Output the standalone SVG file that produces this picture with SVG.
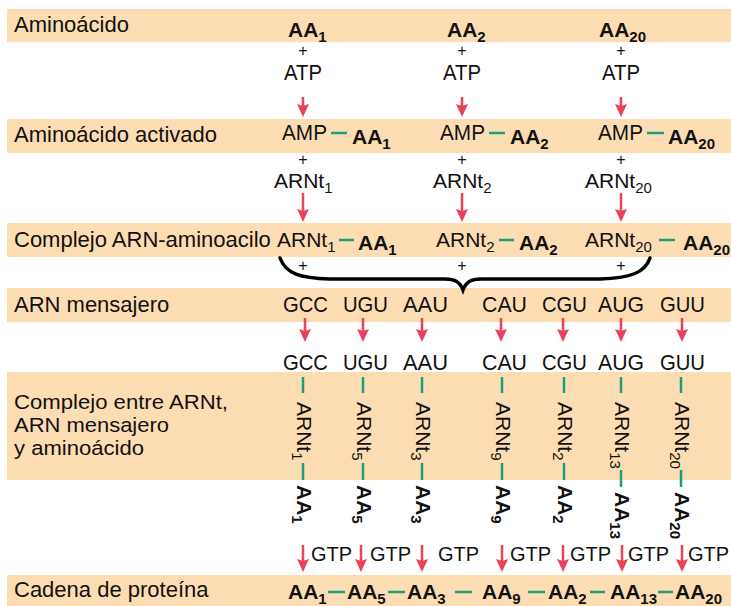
<svg xmlns="http://www.w3.org/2000/svg" width="731" height="606" viewBox="0 0 731 606">
<defs>
<style>
text{font-family:"Liberation Sans",Arial,Helvetica,sans-serif;font-size:22px;fill:#111}
.b{font-weight:bold;font-size:21px}
.t{font-size:21px}
.g{font-size:20px}
.m{font-size:20.5px}
.s{font-size:15px}
.p{font-size:16px}
.band{fill:#FCDDB3}
.arr{stroke:#E8435A;stroke-width:2.5;fill:none;marker-end:url(#ah)}
.tl{stroke:#1E9E78;stroke-width:2.5;fill:none}
.brace{stroke:#000;stroke-width:3.5;fill:none;stroke-linecap:round}
</style>
<marker id="ah" markerUnits="userSpaceOnUse" markerWidth="14" markerHeight="14" viewBox="0 -7 14 14" refX="2" refY="0" orient="auto">
<path d="M0,-6 L13,0 L0,6 L2,0z" fill="#E8435A"/>
</marker>
</defs>
<rect width="731" height="606" fill="#fff"/>
<g id="bands">
<rect class="band" x="7" y="9" width="724" height="33"/>
<rect class="band" x="7" y="119" width="724" height="34"/>
<rect class="band" x="7" y="223" width="724" height="34"/>
<rect class="band" x="7" y="288" width="724" height="34"/>
<rect class="band" x="7" y="372" width="724" height="108"/>
<rect class="band" x="7" y="575" width="724" height="31"/>
</g>
<g id="labels">
<text x="14" y="32">Aminoácido</text>
<text x="14" y="142">Aminoácido activado</text>
<text x="14" y="247">Complejo ARN-aminoacilo</text>
<text x="14" y="312">ARN mensajero</text>
<text class="m" x="14" y="409" textLength="214" lengthAdjust="spacingAndGlyphs">Complejo entre ARNt,</text>
<text class="m" x="14" y="432" textLength="155" lengthAdjust="spacingAndGlyphs">ARN mensajero</text>
<text class="m" x="14" y="455" textLength="130" lengthAdjust="spacingAndGlyphs">y aminoácido</text>
<text x="14" y="597">Cadena de proteína</text>
</g>
<g id="connectors">
<line class="arr" x1="303" y1="97" x2="303" y2="106"/>
<line class="arr" x1="462" y1="97" x2="462" y2="106"/>
<line class="arr" x1="621" y1="97" x2="621" y2="106"/>
<line class="arr" x1="303" y1="193" x2="303" y2="211"/>
<line class="arr" x1="462" y1="193" x2="462" y2="211"/>
<line class="arr" x1="621" y1="193" x2="621" y2="211"/>
<line class="tl" x1="331" y1="133" x2="347" y2="133"/>
<line class="tl" x1="489" y1="133" x2="505" y2="133"/>
<line class="tl" x1="647" y1="133" x2="664" y2="133"/>
<line class="tl" x1="339" y1="240" x2="354" y2="240"/>
<line class="tl" x1="499" y1="240" x2="514" y2="240"/>
<line class="tl" x1="659" y1="240" x2="675" y2="240"/>
<path class="brace" d="M280,258 C286,274 300,278 330,279 L445,279 C455,279 460,282 463,290 C466,282 471,279 481,279 L600,279 C630,278 645,273 650,258"/>
<line class="arr" x1="305" y1="318" x2="305" y2="331"/>
<line class="arr" x1="363" y1="318" x2="363" y2="331"/>
<line class="arr" x1="422" y1="318" x2="422" y2="331"/>
<line class="arr" x1="501" y1="318" x2="501" y2="331"/>
<line class="arr" x1="563" y1="318" x2="563" y2="331"/>
<line class="arr" x1="621" y1="318" x2="621" y2="331"/>
<line class="arr" x1="682" y1="318" x2="682" y2="331"/>
<line class="tl" x1="303" y1="377" x2="303" y2="393"/>
<line class="tl" x1="363" y1="377" x2="363" y2="393"/>
<line class="tl" x1="422" y1="377" x2="422" y2="393"/>
<line class="tl" x1="502" y1="377" x2="502" y2="393"/>
<line class="tl" x1="564" y1="377" x2="564" y2="393"/>
<line class="tl" x1="621" y1="377" x2="621" y2="393"/>
<line class="tl" x1="681" y1="377" x2="681" y2="393"/>
<line class="tl" x1="303" y1="463" x2="303" y2="480"/>
<line class="tl" x1="363" y1="463" x2="363" y2="480"/>
<line class="tl" x1="422" y1="463" x2="422" y2="480"/>
<line class="tl" x1="502" y1="463" x2="502" y2="480"/>
<line class="tl" x1="564" y1="463" x2="564" y2="480"/>
<line class="tl" x1="621" y1="470" x2="621" y2="487"/>
<line class="tl" x1="681" y1="470" x2="681" y2="487"/>
<line class="arr" x1="303" y1="545" x2="303" y2="561"/>
<line class="arr" x1="361" y1="545" x2="361" y2="561"/>
<line class="arr" x1="422" y1="545" x2="422" y2="561"/>
<line class="arr" x1="502" y1="545" x2="502" y2="561"/>
<line class="arr" x1="563" y1="545" x2="563" y2="561"/>
<line class="arr" x1="622" y1="545" x2="622" y2="561"/>
<line class="arr" x1="682" y1="545" x2="682" y2="561"/>
<line class="tl" x1="328" y1="592" x2="345" y2="592"/>
<line class="tl" x1="388" y1="592" x2="405" y2="592"/>
<line class="tl" x1="455" y1="592" x2="472" y2="592"/>
<line class="tl" x1="528" y1="592" x2="545" y2="592"/>
<line class="tl" x1="590" y1="592" x2="605" y2="592"/>
<line class="tl" x1="658" y1="592" x2="673" y2="592"/>
</g>
<g id="row1">
<text class="b" x="288" y="37">AA<tspan class="s" dy="5">1</tspan></text>
<text class="b" x="447" y="37">AA<tspan class="s" dy="5">2</tspan></text>
<text class="b" x="599" y="37">AA<tspan class="s" dy="5">20</tspan></text>
<text class="p" x="303" y="56" text-anchor="middle">+</text>
<text class="p" x="462" y="56" text-anchor="middle">+</text>
<text class="p" x="621" y="56" text-anchor="middle">+</text>
<text x="284" y="80" textLength="38" lengthAdjust="spacingAndGlyphs">ATP</text>
<text x="443" y="80" textLength="38" lengthAdjust="spacingAndGlyphs">ATP</text>
<text x="602" y="80" textLength="38" lengthAdjust="spacingAndGlyphs">ATP</text>
</g>
<g id="row2">
<text x="282" y="140" textLength="45" lengthAdjust="spacingAndGlyphs">AMP</text>
<text class="b" x="352" y="144">AA<tspan class="s" dy="5">1</tspan></text>
<text x="440" y="140" textLength="45" lengthAdjust="spacingAndGlyphs">AMP</text>
<text class="b" x="510" y="144">AA<tspan class="s" dy="5">2</tspan></text>
<text x="598" y="140" textLength="45" lengthAdjust="spacingAndGlyphs">AMP</text>
<text class="b" x="668" y="144">AA<tspan class="s" dy="5">20</tspan></text>
<text class="p" x="303" y="165" text-anchor="middle">+</text>
<text class="p" x="462" y="165" text-anchor="middle">+</text>
<text class="p" x="621" y="165" text-anchor="middle">+</text>
<text class="t" x="274" y="188">ARNt<tspan class="s" dy="5">1</tspan></text>
<text class="t" x="433" y="188">ARNt<tspan class="s" dy="5">2</tspan></text>
<text class="t" x="585" y="188">ARNt<tspan class="s" dy="5">20</tspan></text>
</g>
<g id="row3">
<text class="t" x="277" y="247">ARNt<tspan class="s" dy="5">1</tspan></text>
<text class="b" x="358" y="250">AA<tspan class="s" dy="5">1</tspan></text>
<text class="t" x="436" y="247">ARNt<tspan class="s" dy="5">2</tspan></text>
<text class="b" x="519" y="250">AA<tspan class="s" dy="5">2</tspan></text>
<text class="t" x="585" y="247">ARNt<tspan class="s" dy="5">20</tspan></text>
<text class="b" x="683" y="250">AA<tspan class="s" dy="5">20</tspan></text>
<text class="p" x="303" y="271" text-anchor="middle">+</text>
<text class="p" x="462" y="271" text-anchor="middle">+</text>
<text class="p" x="621" y="271" text-anchor="middle">+</text>
</g>
<g id="codons">
<text x="283" y="312" textLength="45" lengthAdjust="spacingAndGlyphs">GCC</text>
<text x="343" y="312" textLength="45" lengthAdjust="spacingAndGlyphs">UGU</text>
<text x="403" y="312" textLength="45" lengthAdjust="spacingAndGlyphs">AAU</text>
<text x="482" y="312" textLength="45" lengthAdjust="spacingAndGlyphs">CAU</text>
<text x="542" y="312" textLength="45" lengthAdjust="spacingAndGlyphs">CGU</text>
<text x="598" y="312" textLength="46" lengthAdjust="spacingAndGlyphs">AUG</text>
<text x="660" y="312" textLength="45" lengthAdjust="spacingAndGlyphs">GUU</text>
<text x="283" y="370" textLength="45" lengthAdjust="spacingAndGlyphs">GCC</text>
<text x="343" y="370" textLength="45" lengthAdjust="spacingAndGlyphs">UGU</text>
<text x="403" y="370" textLength="45" lengthAdjust="spacingAndGlyphs">AAU</text>
<text x="482" y="370" textLength="45" lengthAdjust="spacingAndGlyphs">CAU</text>
<text x="542" y="370" textLength="45" lengthAdjust="spacingAndGlyphs">CGU</text>
<text x="598" y="370" textLength="46" lengthAdjust="spacingAndGlyphs">AUG</text>
<text x="660" y="370" textLength="45" lengthAdjust="spacingAndGlyphs">GUU</text>
</g>
<g id="complex">
<text class="t" transform="translate(297,402) rotate(90)">ARNt<tspan class="s" dy="5">1</tspan></text>
<text class="t" transform="translate(357,402) rotate(90)">ARNt<tspan class="s" dy="5">5</tspan></text>
<text class="t" transform="translate(416,402) rotate(90)">ARNt<tspan class="s" dy="5">3</tspan></text>
<text class="t" transform="translate(496,402) rotate(90)">ARNt<tspan class="s" dy="5">9</tspan></text>
<text class="t" transform="translate(558,402) rotate(90)">ARNt<tspan class="s" dy="5">2</tspan></text>
<text class="t" transform="translate(615,402) rotate(90)">ARNt<tspan class="s" dy="5">13</tspan></text>
<text class="t" transform="translate(675,402) rotate(90)">ARNt<tspan class="s" dy="5">20</tspan></text>
<text class="b" transform="translate(297,485) rotate(90)">AA<tspan class="s" dy="5">1</tspan></text>
<text class="b" transform="translate(357,485) rotate(90)">AA<tspan class="s" dy="5">5</tspan></text>
<text class="b" transform="translate(416,485) rotate(90)">AA<tspan class="s" dy="5">3</tspan></text>
<text class="b" transform="translate(496,485) rotate(90)">AA<tspan class="s" dy="5">9</tspan></text>
<text class="b" transform="translate(558,485) rotate(90)">AA<tspan class="s" dy="5">2</tspan></text>
<text class="b" transform="translate(615,492) rotate(90)">AA<tspan class="s" dy="5">13</tspan></text>
<text class="b" transform="translate(675,492) rotate(90)">AA<tspan class="s" dy="5">20</tspan></text>
</g>
<g id="gtp">
<text class="g" x="311" y="561">GTP</text>
<text class="g" x="370" y="561">GTP</text>
<text class="g" x="438" y="561">GTP</text>
<text class="g" x="510" y="561">GTP</text>
<text class="g" x="570" y="561">GTP</text>
<text class="g" x="628" y="561">GTP</text>
<text class="g" x="688" y="561">GTP</text>
</g>
<g id="chain">
<text class="b" x="288" y="599">AA<tspan class="s" dy="5">1</tspan></text>
<text class="b" x="347" y="599">AA<tspan class="s" dy="5">5</tspan></text>
<text class="b" x="407" y="599">AA<tspan class="s" dy="5">3</tspan></text>
<text class="b" x="482" y="599">AA<tspan class="s" dy="5">9</tspan></text>
<text class="b" x="548" y="599">AA<tspan class="s" dy="5">2</tspan></text>
<text class="b" x="610" y="599">AA<tspan class="s" dy="5">13</tspan></text>
<text class="b" x="675" y="599">AA<tspan class="s" dy="5">20</tspan></text>
</g>
</svg>
